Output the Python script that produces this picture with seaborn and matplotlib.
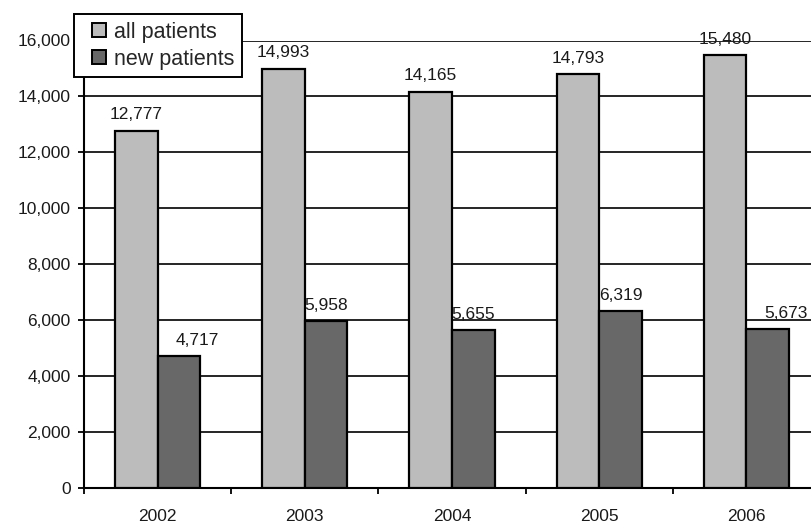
import matplotlib
matplotlib.use("Agg")
import matplotlib.pyplot as plt
from matplotlib.lines import Line2D
from matplotlib.ticker import FixedLocator, FuncFormatter
import pandas as pd
import seaborn as sns

years = ["2002", "2003", "2004", "2005", "2006"]
all_patients = [12777, 14993, 14165, 14793, 15480]
new_patients = [4717, 5958, 5655, 6319, 5673]
series_names = ["all patients", "new patients"]
series_colors = ["#bcbcbc", "#686868"]
y_ticks = [0, 2000, 4000, 6000, 8000, 10000, 12000, 14000, 16000]

df = pd.DataFrame({
    "year": years * 2,
    "patients": all_patients + new_patients,
    "group": [series_names[0]] * len(years) + [series_names[1]] * len(years),
})

sns.set_theme(style="white")
plt.rcParams["font.family"] = ["Liberation Sans", "DejaVu Sans"]

fig = plt.figure(figsize=(8.12, 5.25), dpi=100)
ax = fig.add_axes([84 / 812, 37 / 525, 736 / 812, 447.5 / 525])

sns.barplot(
    data=df, x="year", y="patients", hue="group", order=years,
    hue_order=series_names, palette=series_colors, width=0.58,
    edgecolor="black", linewidth=1.6, legend=False, ax=ax, zorder=3,
)

ax.set_xlim(-0.5, len(years) - 0.5)
ax.set_ylim(0, 16000)
ax.set_xlabel("")
ax.set_ylabel("")

# horizontal grid in black, behind the bars
ax.yaxis.set_major_locator(FixedLocator(y_ticks))
ax.yaxis.set_major_formatter(FuncFormatter(lambda v, _: f"{v:,.0f}"))
ax.yaxis.grid(True, color="black", linewidth=1.2)
ax.set_axisbelow(True)

for side in ("top", "right"):
    ax.spines[side].set_visible(False)
for side in ("left", "bottom"):
    ax.spines[side].set_color("black")
    ax.spines[side].set_linewidth(1.5)

ax.tick_params(axis="y", which="major", length=4.5, width=1.3, color="black",
               direction="out", pad=5, labelsize=12.5, labelcolor="#1a1a1a", left=True)
# category separators as small ticks below the axis
ax.set_xticks([i - 0.5 for i in range(len(years) + 1)], minor=True)
ax.tick_params(axis="x", which="minor", length=4, width=1.3, color="black",
               direction="out", bottom=True)
ax.tick_params(axis="x", which="major", length=0, pad=15, labelsize=12.5,
               labelcolor="#1a1a1a")

# value labels above bars
label_nudge = {(1, 0): 13, (1, 4): 13}
for si, container in enumerate(ax.containers):
    texts = ax.bar_label(container, labels=[f"{v:,.0f}" for v in container.datavalues],
                         padding=6, fontsize=12.5, color="#1a1a1a")
    for bi, t in enumerate(texts):
        dx = label_nudge.get((si, bi), 0)
        if dx:
            t.xyann = (dx, 6)

handles = [
    Line2D([], [], linestyle="none", marker="s", markersize=10,
           markerfacecolor=c, markeredgecolor="black", markeredgewidth=1.4)
    for c in series_colors
]
leg = ax.legend(
    handles, series_names, loc="upper left",
    bbox_to_anchor=(74 / 812, 1 - 14 / 525), bbox_transform=fig.transFigure,
    borderaxespad=0, fontsize=15.5, frameon=True, fancybox=False, framealpha=1,
    edgecolor="black", handlelength=1.6, handletextpad=-0.1,
    labelspacing=0.28, borderpad=0.35,
)
leg.get_frame().set_linewidth(1.4)
leg.set_zorder(10)

fig.savefig("out.png", dpi=100)
